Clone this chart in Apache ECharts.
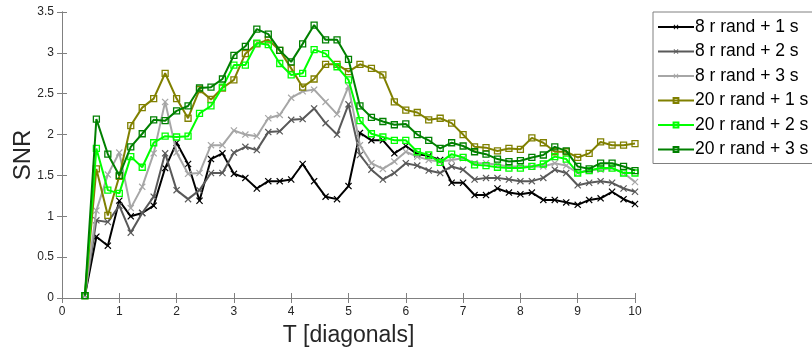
<!DOCTYPE html>
<html lang="en">
<head>
    <meta charset="UTF-8">
    <title>SNR vs T</title>
    <script src="https://cdn.jsdelivr.net/npm/echarts@6/dist/echarts.min.js"></script>
    <style>
        html, body {
            padding: 0;
            margin: 0;
            background: #fff;
        }

        #chart {
            width: 812px;
            height: 354px;
        }
    </style>
</head>
<body>
<div id="chart"></div>
<script>
    // T [diagonals]
    var tValues = [0.4, 0.6, 0.8, 1.0, 1.2, 1.4, 1.6, 1.8, 2.0, 2.2, 2.4, 2.6, 2.8, 3.0, 3.2, 3.4, 3.6, 3.8, 4.0, 4.2,
        4.4, 4.6, 4.8, 5.0, 5.2, 5.4, 5.6, 5.8, 6.0, 6.2, 6.4, 6.6, 6.8, 7.0, 7.2, 7.4, 7.6, 7.8, 8.0, 8.2,
        8.4, 8.6, 8.8, 9.0, 9.2, 9.4, 9.6, 9.8, 10.0];

    var names = ['8 r rand + 1 s', '8 r rand + 2 s', '8 r rand + 3 s', '20 r rand + 1 s', '20 r rand + 2 s', '20 r rand + 3 s'];

    var snr8r1s = [0.03, 0.75, 0.64, 1.19, 1.00, 1.04, 1.13, 1.59, 1.90, 1.64, 1.19,
        1.70, 1.77, 1.52, 1.47, 1.34, 1.43, 1.43, 1.45, 1.64, 1.43, 1.24, 1.21,
        1.37, 2.02, 1.93, 1.93, 1.77, 1.86, 1.76, 1.74, 1.69, 1.41, 1.41, 1.26, 1.26,
        1.34, 1.29, 1.27, 1.29, 1.20, 1.20, 1.17, 1.14, 1.20, 1.22, 1.30, 1.21, 1.15];
    var snr8r2s = [0.03, 0.95, 0.93, 1.13, 0.80, 1.04, 1.24, 1.77, 1.32, 1.21, 1.32,
        1.53, 1.53, 1.78, 1.85, 1.81, 2.03, 2.04, 2.18, 2.19, 2.32, 2.14, 2.00,
        2.37, 1.75, 1.57, 1.45, 1.53, 1.65, 1.62, 1.56, 1.53, 1.61, 1.57, 1.45, 1.47,
        1.47, 1.45, 1.43, 1.43, 1.47, 1.57, 1.53, 1.38, 1.41, 1.43, 1.41, 1.34, 1.30];
    var snr8r3s = [0.03, 1.07, 1.51, 1.78, 1.10, 1.36, 1.77, 2.40, 1.78, 1.52, 1.53,
        1.87, 1.87, 2.05, 2.00, 1.98, 2.20, 2.24, 2.45, 2.53, 2.55, 2.40, 2.25,
        2.59, 1.87, 1.65, 1.58, 1.67, 1.79, 1.73, 1.69, 1.67, 1.69, 1.71, 1.65, 1.65,
        1.63, 1.61, 1.61, 1.61, 1.61, 1.65, 1.62, 1.53, 1.57, 1.57, 1.59, 1.53, 1.42];
    var snr20r1s = [0.03, 1.58, 1.01, 1.49, 2.11, 2.33, 2.44, 2.75, 2.44, 2.20, 2.55,
        2.43, 2.57, 2.67, 2.99, 3.11, 3.16, 3.03, 2.81, 2.58, 2.68, 2.86, 2.86,
        2.77, 2.86, 2.81, 2.73, 2.40, 2.30, 2.27, 2.18, 2.20, 2.14, 2.00, 1.85, 1.84,
        1.80, 1.83, 1.82, 1.96, 1.90, 1.79, 1.79, 1.72, 1.77, 1.91, 1.87, 1.87, 1.89];
    var snr20r2s = [0.03, 1.83, 1.32, 1.28, 1.73, 1.60, 1.90, 1.98, 1.97, 1.98, 2.26,
        2.35, 2.58, 2.85, 2.85, 3.12, 3.10, 2.87, 2.73, 2.75, 3.04, 2.99, 2.83,
        2.67, 2.17, 2.01, 1.97, 1.93, 1.93, 1.79, 1.75, 1.66, 1.76, 1.72, 1.63, 1.62,
        1.60, 1.59, 1.59, 1.61, 1.64, 1.73, 1.70, 1.53, 1.56, 1.59, 1.59, 1.53, 1.53];
    var snr20r3s = [0.03, 2.19, 1.76, 1.50, 1.85, 2.01, 2.18, 2.17, 2.29, 2.35, 2.57,
        2.58, 2.68, 2.97, 3.08, 3.29, 3.23, 3.03, 2.89, 3.11, 3.34, 3.16, 3.16,
        2.92, 2.35, 2.21, 2.16, 2.12, 2.13, 2.00, 1.93, 1.83, 1.90, 1.86, 1.79, 1.76,
        1.70, 1.67, 1.68, 1.72, 1.75, 1.85, 1.80, 1.61, 1.58, 1.65, 1.65, 1.61, 1.56];

    var allData = [snr8r1s, snr8r2s, snr8r3s, snr20r1s, snr20r2s, snr20r3s];
    var colors = ['#000000', '#595959', '#a6a6a6', '#808000', '#00ff00', '#008000'];

    // x-shaped marker (matlab 'x')
    var xMark = 'path://M0,1.2L1.2,0L5,3.8L8.8,0L10,1.2L6.2,5L10,8.8L8.8,10L5,6.2L1.2,10L0,8.8L3.8,5Z';

    var chartDom = document.getElementById('chart');
    var myChart = echarts.init(chartDom);

    var series = allData.map(function (vals, i) {
        var isSquare = i >= 3;
        return {
            name: names[i],
            type: 'line',
            data: tValues.map(function (t, k) {
                return [t, vals[k]];
            }),
            symbol: isSquare ? 'rect' : xMark,
            symbolSize: isSquare ? 6 : 7,
            showAllSymbol: true,
            lineStyle: {color: colors[i], width: 2},
            itemStyle: isSquare ? {
                color: 'rgba(255,255,255,0)',
                borderColor: colors[i],
                borderWidth: 1.3
            } : {
                color: colors[i],
                borderWidth: 0
            },
            emphasis: {disabled: true},
            animation: false,
            z: 2 + i
        };
    });

    var axisFont = {color: '#262626', fontSize: 12, fontFamily: 'Liberation Sans, Arial'};
    var boxLine = {show: true, lineStyle: {color: '#808080', width: 1}};

    var option = {
        backgroundColor: '#fff',
        animation: false,
        grid: {left: 62, right: 177, top: 12, bottom: 56, outerBoundsMode: 'none', containLabel: false},
        legend: {
            orient: 'vertical',
            left: 653,
            top: 12,
            padding: [6, 16, 5, 4],
            itemGap: 6.5,
            itemWidth: 36,
            itemHeight: 6,
            backgroundColor: '#fff',
            borderColor: '#808080',
            borderWidth: 1,
            borderRadius: 0,
            textStyle: {color: '#000', fontSize: 17.5, lineHeight: 17, fontFamily: 'Liberation Sans, Arial', padding: [0, 0, 0, -4]},
            data: names
        },
        xAxis: [{
            type: 'value',
            min: 0,
            max: 10,
            interval: 1,
            name: 'T [diagonals]',
            nameLocation: 'middle',
            nameGap: 26,
            nameMoveOverlap: false,
            nameTextStyle: {color: '#262626', fontSize: 23, fontFamily: 'Liberation Sans, Arial'},
            axisLine: boxLine,
            axisTick: {inside: true, length: 5, lineStyle: {color: '#808080'}},
            axisLabel: axisFont,
            splitLine: {show: false}
        }, {
            type: 'value',
            position: 'top',
            min: 0,
            max: 10,
            interval: 1,
            axisLine: boxLine,
            axisTick: {inside: true, length: 5, lineStyle: {color: '#808080'}},
            axisLabel: {show: false},
            splitLine: {show: false}
        }],
        yAxis: [{
            type: 'value',
            min: 0,
            max: 3.5,
            interval: 0.5,
            name: 'SNR',
            nameLocation: 'middle',
            nameGap: 27,
            nameMoveOverlap: false,
            nameTextStyle: {color: '#262626', fontSize: 24, fontFamily: 'Liberation Sans, Arial'},
            axisLine: boxLine,
            axisTick: {inside: true, length: 5, lineStyle: {color: '#808080'}},
            axisLabel: axisFont,
            splitLine: {show: false}
        }, {
            type: 'value',
            position: 'right',
            min: 0,
            max: 3.5,
            interval: 0.5,
            axisLine: boxLine,
            axisTick: {inside: true, length: 5, lineStyle: {color: '#808080'}},
            axisLabel: {show: false},
            splitLine: {show: false}
        }],
        series: series
    };
    myChart.setOption(option);
</script>
</body>
</html>
